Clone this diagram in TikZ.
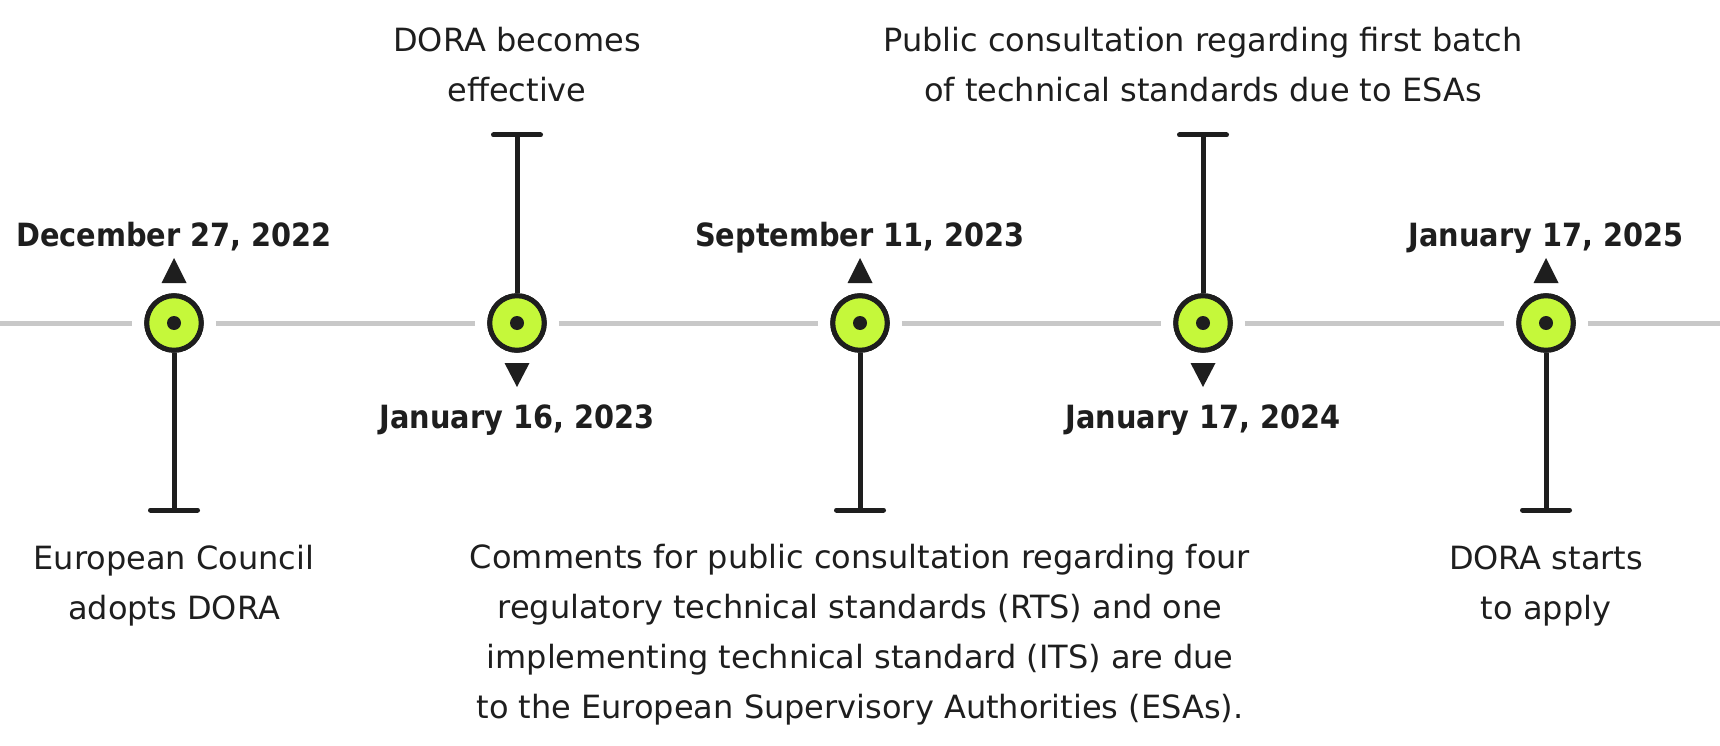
\documentclass[tikz,border=0pt]{standalone}
\usepackage{fontspec}
\setmainfont{DejaVu Sans}
\newfontfamily\datefont{DejaVu Sans}[FakeStretch=0.9]
\definecolor{ink}{RGB}{30,30,30}
\definecolor{lime}{RGB}{197,248,58}
\definecolor{trackgray}{RGB}{200,200,200}
\begin{document}
\begin{tikzpicture}[x=1pt,y=-1pt,
  track/.style={draw=trackgray,line width=5pt,shorten >=12pt,shorten <=12pt},
  stem/.style={draw=ink,line width=5pt},
  bar/.style={draw=ink,line width=5pt,line cap=round},
  milestone/.style={circle,draw=ink,fill=lime,line width=5pt,minimum size=54.5pt,inner sep=0pt},
  dotc/.style={circle,fill=ink,minimum size=14pt,inner sep=0pt},
  datelabel/.style={anchor=base,inner sep=0pt,text=ink,font=\datefont\bfseries\fontsize{32}{40}\selectfont},
  desc/.style={anchor=base,inner sep=0pt,align=center,text=ink,font=\fontsize{32}{50}\selectfont},
  tri/.style={fill=ink}]
\useasboundingbox (0,0) rectangle (1720,746);
\fill[white] (0,0) rectangle (1720,746);
% track ends
\coordinate (L) at (0,323);
\coordinate (R) at (1720,323);
% milestones
\foreach \i/\x in {1/174,2/517,3/860,4/1203,5/1546}{
  \node[milestone] (n\i) at (\x,323) {};
}
% track segments
\draw[track,shorten <=0pt] (L) -- (n1);
\draw[track] (n1) -- (n2);
\draw[track] (n2) -- (n3);
\draw[track] (n3) -- (n4);
\draw[track] (n4) -- (n5);
\draw[track,shorten >=0pt] (n5) -- (R);
% stem ends
\coordinate (b1) at (174,510);
\coordinate (b2) at (517,135);
\coordinate (b3) at (860,510);
\coordinate (b4) at (1203,135);
\coordinate (b5) at (1546,510);
\foreach \i in {1,...,5}{
  \draw[stem] (n\i) -- (b\i);
  \draw[bar] ([xshift=-23.5pt]b\i) -- ([xshift=23.5pt]b\i);
}
% redraw milestones on top
\foreach \i/\x in {1/174,2/517,3/860,4/1203,5/1546}{
  \node[milestone] at (\x,323) {};
  \node[dotc] (c\i) at (\x,323) {};
}
% triangles
\foreach \x in {174,860,1546}{
  \fill[tri] (\x,258) -- (\x+12.5,283) -- (\x-12.5,283) -- cycle;
}
\foreach \x in {517,1203}{
  \fill[tri] (\x,387) -- (\x+12.5,363) -- (\x-12.5,363) -- cycle;
}
% dates
\node[datelabel] (d1) at (174,246) {December 27, 2022};
\node[datelabel] (d2) at (517,428) {January 16, 2023};
\node[datelabel] (d3) at (860,246) {September 11, 2023};
\node[datelabel] (d4) at (1203,428) {January 17, 2024};
\node[datelabel] (d5) at (1546,246) {January 17, 2025};
% descriptions (base = last line's baseline)
\node[desc] (t1) at (174,619) {European Council\\adopts DORA};
\node[desc] (t2) at (517,102) {DORA becomes\\effective};
\node[desc] (t3) at (860,718) {Comments for public consultation regarding four\\regulatory technical standards (RTS) and one\\implementing technical standard (ITS) are due\\to the European Supervisory Authorities (ESAs).};
\node[desc] (t4) at (1203,102) {Public consultation regarding first batch\\of technical standards due to ESAs};
\node[desc] (t5) at (1546,619) {DORA starts\\to apply};
\end{tikzpicture}
\end{document}
